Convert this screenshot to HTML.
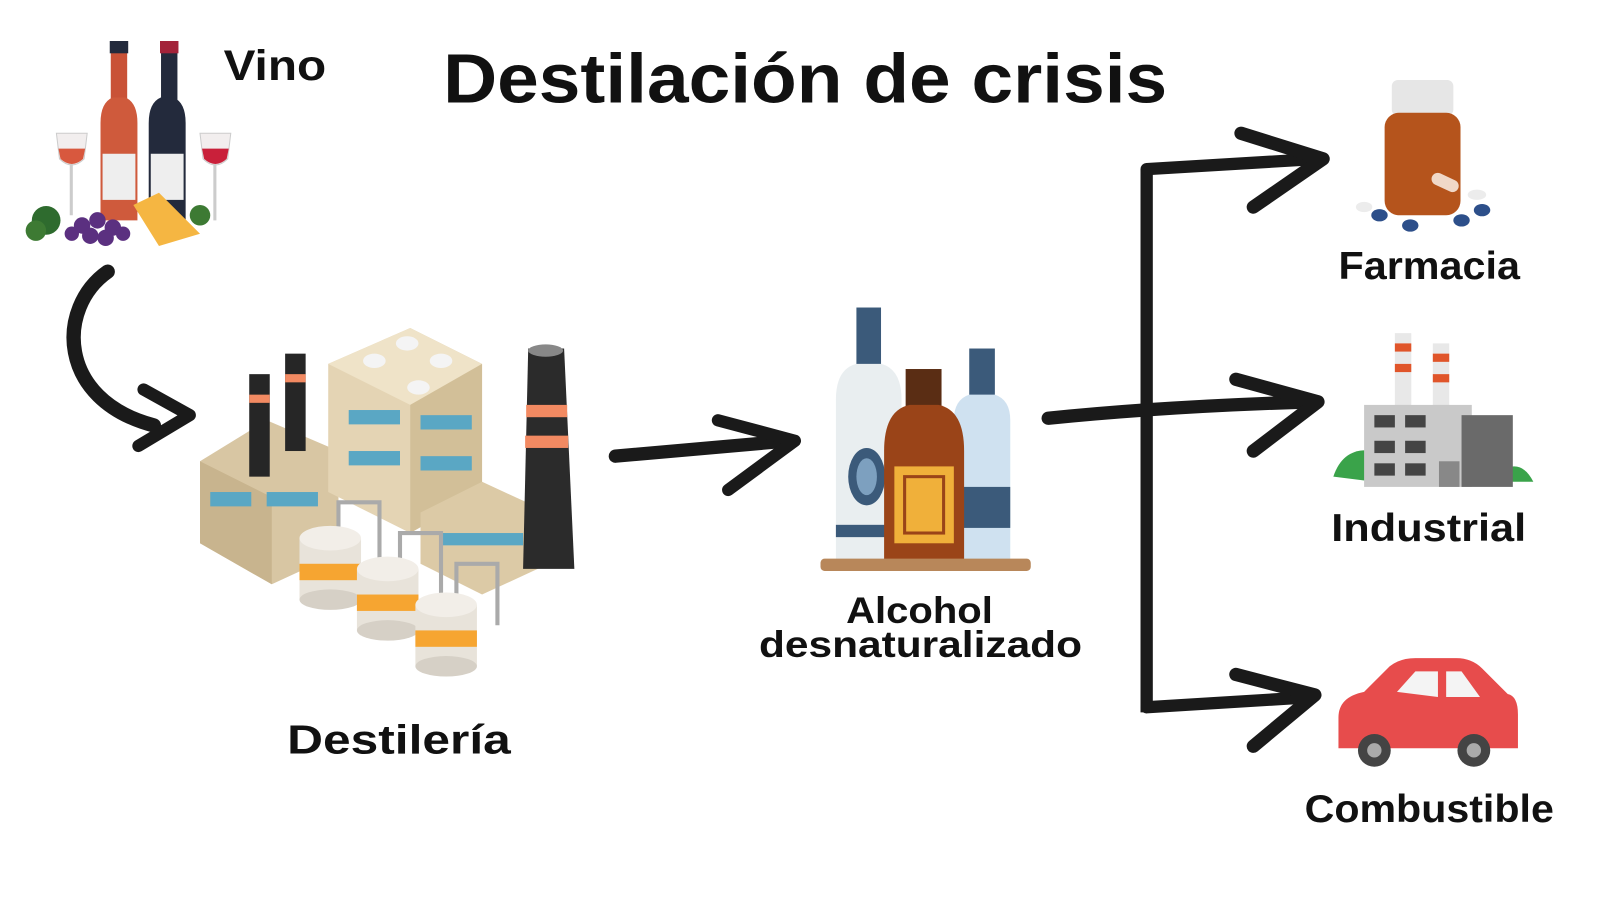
<!DOCTYPE html>
<html><head><meta charset="utf-8"><style>
html,body{margin:0;padding:0;background:#fff;}
svg{display:block;}
text{font-family:"Liberation Sans","DejaVu Sans",sans-serif;font-weight:bold;fill:#111;}
</style></head><body>
<svg width="1600" height="900" viewBox="0 0 1560 878" preserveAspectRatio="none" xmlns="http://www.w3.org/2000/svg">
<rect width="1560" height="878" fill="#fff"/>
<!-- Title -->
<text x="432" y="100" font-size="68" textLength="706" lengthAdjust="spacingAndGlyphs">Destilación de crisis</text>
<text x="218" y="78" font-size="42" textLength="100" lengthAdjust="spacingAndGlyphs">Vino</text>

<!-- Wine group -->
<g>
 <path d="M55 130 h30 l-3 25 q-12 12 -24 0 z" fill="#f2eeee" stroke="#ccc"/>
 <path d="M57 145 h26 l-2 10 q-11 10 -22 0z" fill="#d8583e"/>
 <rect x="68" y="160" width="3" height="50" fill="#ccc"/>
 <path d="M195 130 h30 l-3 25 q-12 12 -24 0 z" fill="#f2eeee" stroke="#ccc"/>
 <path d="M197 145 h26 l-2 10 q-11 10 -22 0z" fill="#c9203a"/>
 <rect x="208" y="160" width="3" height="55" fill="#ccc"/>
 <rect x="108" y="40" width="16" height="60" fill="#c95237"/>
 <rect x="107" y="40" width="18" height="12" fill="#232a3c"/>
 <path d="M98 120 q0 -20 12 -25 h12 q12 5 12 25 v95 h-36z" fill="#cf5a3c"/>
 <rect x="100" y="150" width="32" height="45" fill="#eee"/>
 <rect x="157" y="40" width="16" height="60" fill="#232a3c"/>
 <rect x="156" y="40" width="18" height="12" fill="#a3233a"/>
 <path d="M145 120 q0 -20 12 -25 h12 q12 5 12 25 v95 h-36z" fill="#232a3c"/>
 <rect x="147" y="150" width="32" height="45" fill="#eee"/>
 <circle cx="45" cy="215" r="14" fill="#2e6b2e"/><circle cx="35" cy="225" r="10" fill="#3d7a33"/>
 <circle cx="195" cy="210" r="10" fill="#3d7a33"/>
 <g fill="#5b3080"><circle cx="80" cy="220" r="8"/><circle cx="95" cy="215" r="8"/><circle cx="110" cy="222" r="8"/><circle cx="88" cy="230" r="8"/><circle cx="103" cy="232" r="8"/><circle cx="120" cy="228" r="7"/><circle cx="70" cy="228" r="7"/></g>
 <path d="M130 200 l25 -12 l40 40 l-40 12 z" fill="#f5b642"/>
</g>

<!-- curved arrow -->
<path d="M105 265 C55 300 55 390 150 415" fill="none" stroke="#1a1a1a" stroke-width="14" stroke-linecap="round"/>
<path d="M140 380 L185 405 L135 435" fill="none" stroke="#1a1a1a" stroke-width="12" stroke-linecap="round" stroke-linejoin="round"/>

<!-- Factory (distillery) -->
<g>
 <polygon points="195,450 260,410 330,440 330,540 265,570 195,530" fill="#d8c6a3"/>
 <polygon points="195,450 265,485 265,570 195,530" fill="#c8b48e"/>
 <polygon points="320,355 400,320 470,355 470,480 400,520 320,480" fill="#e4d4b4"/>
 <polygon points="320,355 400,395 470,355 400,320" fill="#efe3c8"/>
 <polygon points="400,395 470,355 470,480 400,520" fill="#d2bf98"/>
 <g fill="#f4f4f4"><ellipse cx="397" cy="335" rx="11" ry="7"/><ellipse cx="365" cy="352" rx="11" ry="7"/><ellipse cx="430" cy="352" rx="11" ry="7"/><ellipse cx="408" cy="378" rx="11" ry="7"/></g>
 <g fill="#5aa7c4"><rect x="340" y="400" width="50" height="14"/><rect x="410" y="405" width="50" height="14"/><rect x="340" y="440" width="50" height="14"/><rect x="410" y="445" width="50" height="14"/><rect x="205" y="480" width="40" height="14"/><rect x="260" y="480" width="50" height="14"/></g>
 <polygon points="410,500 470,470 535,500 535,550 470,580 410,550" fill="#dccaa6"/>
 <rect x="430" y="520" width="80" height="12" fill="#5aa7c4"/>
 <rect x="243" y="365" width="20" height="100" fill="#262626"/><rect x="243" y="385" width="20" height="8" fill="#f28a62"/>
 <rect x="278" y="345" width="20" height="95" fill="#262626"/><rect x="278" y="365" width="20" height="8" fill="#f28a62"/>
 <polygon points="515,340 550,340 560,555 510,555" fill="#2b2b2b"/><rect x="513" y="395" width="40" height="12" fill="#f28a62"/><rect x="512" y="425" width="42" height="12" fill="#f28a62"/>
 <ellipse cx="532" cy="342" rx="17" ry="6" fill="#888"/>
 <g stroke="#aaa" stroke-width="4" fill="none"><path d="M330 530 V490 h40 v60"/><path d="M390 560 V520 h40 v60"/><path d="M445 590 V550 h40 v60"/></g>
 <g><rect x="292" y="525" width="60" height="60" fill="#e8e3da"/><rect x="292" y="550" width="60" height="16" fill="#f6a531"/><ellipse cx="322" cy="525" rx="30" ry="12" fill="#f2eee8"/><ellipse cx="322" cy="585" rx="30" ry="10" fill="#d6d0c6"/></g>
 <g><rect x="348" y="555" width="60" height="60" fill="#e8e3da"/><rect x="348" y="580" width="60" height="16" fill="#f6a531"/><ellipse cx="378" cy="555" rx="30" ry="12" fill="#f2eee8"/><ellipse cx="378" cy="615" rx="30" ry="10" fill="#d6d0c6"/></g>
 <g><rect x="405" y="590" width="60" height="60" fill="#e8e3da"/><rect x="405" y="615" width="60" height="16" fill="#f6a531"/><ellipse cx="435" cy="590" rx="30" ry="12" fill="#f2eee8"/><ellipse cx="435" cy="650" rx="30" ry="10" fill="#d6d0c6"/></g>
</g>
<text x="280" y="735" font-size="40" textLength="218" lengthAdjust="spacingAndGlyphs">Destilería</text>

<!-- arrow factory -> bottles -->
<path d="M600 445 L770 430" fill="none" stroke="#1a1a1a" stroke-width="13" stroke-linecap="round"/>
<path d="M700 410 L775 430 L710 478" fill="none" stroke="#1a1a1a" stroke-width="12" stroke-linecap="round" stroke-linejoin="round"/>

<!-- bottles -->
<g>
 <rect x="835" y="300" width="24" height="60" fill="#3b5a7a"/>
 <path d="M815 390 q0 -30 20 -35 h24 q20 5 20 35 v160 h-64z" fill="#e9eef0"/>
 <ellipse cx="845" cy="465" rx="18" ry="28" fill="#3b5a7a"/><ellipse cx="845" cy="465" rx="10" ry="18" fill="#7da0bf"/>
 <rect x="815" y="512" width="64" height="12" fill="#3b5a7a"/>
 <rect x="945" y="340" width="25" height="50" fill="#3b5a7a"/>
 <path d="M930 410 q0 -20 15 -25 h25 q15 5 15 25 v140 h-55z" fill="#cfe1f0"/>
 <rect x="930" y="475" width="55" height="40" fill="#3b5a7a"/>
 <rect x="883" y="360" width="35" height="40" fill="#5a2d14"/>
 <path d="M862 440 q0 -40 25 -45 h28 q25 5 25 45 v112 h-78z" fill="#9a4418"/>
 <rect x="872" y="455" width="58" height="75" fill="#f0b03a"/><rect x="882" y="465" width="38" height="55" fill="none" stroke="#9a4418" stroke-width="3"/>
 <rect x="800" y="545" width="205" height="12" rx="4" fill="#b8875a"/>
</g>
<text x="825" y="608" font-size="36" textLength="143" lengthAdjust="spacingAndGlyphs">Alcohol</text>
<text x="740" y="641" font-size="36" textLength="315" lengthAdjust="spacingAndGlyphs">desnaturalizado</text>

<!-- branching arrows -->
<path d="M1022 408 C1100 400 1180 395 1280 392" fill="none" stroke="#1a1a1a" stroke-width="13" stroke-linecap="round"/>
<path d="M1118 165 V695" fill="none" stroke="#1a1a1a" stroke-width="12"/>
<path d="M1118 165 L1285 155" fill="none" stroke="#1a1a1a" stroke-width="12" stroke-linecap="round"/>
<path d="M1118 690 L1280 680" fill="none" stroke="#1a1a1a" stroke-width="12" stroke-linecap="round"/>
<path d="M1210 130 L1290 155 L1222 202" fill="none" stroke="#1a1a1a" stroke-width="13" stroke-linecap="round" stroke-linejoin="round"/>
<path d="M1205 370 L1285 392 L1222 440" fill="none" stroke="#1a1a1a" stroke-width="13" stroke-linecap="round" stroke-linejoin="round"/>
<path d="M1205 658 L1282 678 L1222 728" fill="none" stroke="#1a1a1a" stroke-width="13" stroke-linecap="round" stroke-linejoin="round"/>

<!-- pill jar -->
<g>
 <rect x="1357" y="78" width="60" height="35" rx="6" fill="#e6e6e6"/>
 <rect x="1350" y="110" width="74" height="100" rx="14" fill="#b5541c"/>
 <rect x="1395" y="172" width="28" height="12" rx="6" fill="#f0d8c8" transform="rotate(25 1409 178)"/>
 <g fill="#2d4f8a"><ellipse cx="1345" cy="210" rx="8" ry="6"/><ellipse cx="1375" cy="220" rx="8" ry="6"/><ellipse cx="1425" cy="215" rx="8" ry="6"/><ellipse cx="1445" cy="205" rx="8" ry="6"/></g>
 <g fill="#ececec"><ellipse cx="1330" cy="202" rx="8" ry="5"/><ellipse cx="1440" cy="190" rx="9" ry="5"/></g>
</g>
<text x="1305" y="272" font-size="38" textLength="177" lengthAdjust="spacingAndGlyphs">Farmacia</text>

<!-- industrial -->
<g>
 <rect x="1360" y="325" width="16" height="80" fill="#e8e8e8"/><rect x="1360" y="335" width="16" height="8" fill="#e0552a"/><rect x="1360" y="355" width="16" height="8" fill="#e0552a"/>
 <rect x="1397" y="335" width="16" height="70" fill="#e8e8e8"/><rect x="1397" y="345" width="16" height="8" fill="#e0552a"/><rect x="1397" y="365" width="16" height="8" fill="#e0552a"/>
 <path d="M1300 465 q10 -30 40 -25 v30z" fill="#3aa34a"/><path d="M1450 470 q30 -30 45 0z" fill="#3aa34a"/>
 <rect x="1330" y="395" width="105" height="80" fill="#c9c9c9"/>
 <rect x="1425" y="405" width="50" height="70" fill="#6a6a6a"/>
 <g fill="#444"><rect x="1340" y="405" width="20" height="12"/><rect x="1370" y="405" width="20" height="12"/><rect x="1340" y="430" width="20" height="12"/><rect x="1370" y="430" width="20" height="12"/><rect x="1340" y="452" width="20" height="12"/><rect x="1370" y="452" width="20" height="12"/></g>
 <rect x="1403" y="450" width="20" height="25" fill="#888"/>
</g>
<text x="1298" y="528" font-size="38" textLength="190" lengthAdjust="spacingAndGlyphs">Industrial</text>

<!-- car -->
<g>
 <path d="M1305 730 v-30 q0 -20 25 -25 l25 -25 q10 -8 25 -8 h40 q15 0 25 10 l25 25 q10 2 10 20 v33z" fill="#e74c4c"/>
 <path d="M1362 675 l18 -20 h22 v25z" fill="#f4f4f4"/><path d="M1410 655 h15 l18 25 h-33z" fill="#f4f4f4"/>
 <circle cx="1340" cy="732" r="16" fill="#444"/><circle cx="1340" cy="732" r="7" fill="#aaa"/>
 <circle cx="1437" cy="732" r="16" fill="#444"/><circle cx="1437" cy="732" r="7" fill="#aaa"/>
</g>
<text x="1272" y="802" font-size="38" textLength="243" lengthAdjust="spacingAndGlyphs">Combustible</text>
</svg>
</body></html>
